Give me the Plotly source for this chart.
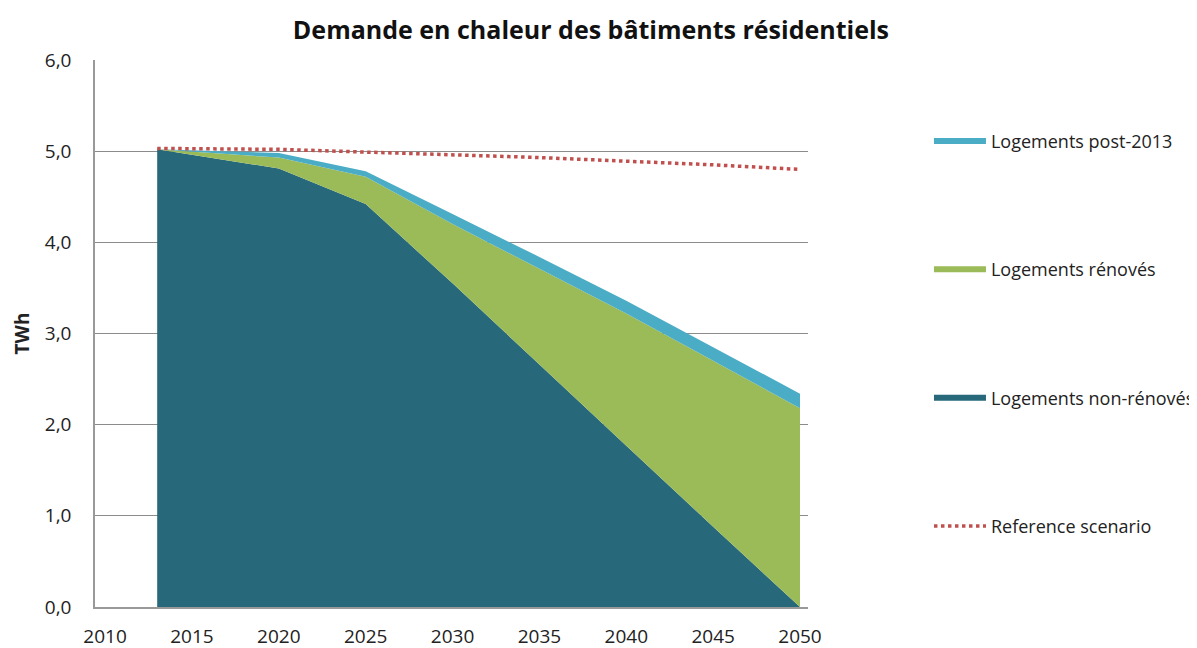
import plotly.graph_objects as go

years = [2013, 2020, 2025, 2030, 2035, 2040, 2045, 2050]
non_renoves = [5.02, 4.81, 4.42, 3.55, 2.66, 1.77, 0.88, 0.0]
renoves = [0.0, 0.12, 0.30, 0.65, 1.05, 1.45, 1.82, 2.18]
post_2013 = [0.0, 0.05, 0.06, 0.11, 0.13, 0.14, 0.15, 0.16]
reference = [5.03, 5.02, 4.99, 4.96, 4.93, 4.89, 4.85, 4.80]

title = "Demande en chaleur des bâtiments résidentiels"
y_title = "TWh"
x_ticks = [2010, 2015, 2020, 2025, 2030, 2035, 2040, 2045, 2050]
y_ticks = [0, 1, 2, 3, 4, 5, 6]
y_ticklabels = ["0,0", "1,0", "2,0", "3,0", "4,0", "5,0", "6,0"]

FONT = "Open Sans"

fig = go.Figure()
fig.add_trace(go.Scatter(x=years, y=non_renoves, name="Logements non-rénovés",
                         stackgroup="a", mode="none", fillcolor="#27687A",
                         legendgroup="c", legendrank=3))
fig.add_trace(go.Scatter(x=years, y=renoves, name="Logements rénovés",
                         stackgroup="a", mode="none", fillcolor="#9BBB59",
                         legendgroup="b", legendrank=2))
fig.add_trace(go.Scatter(x=years, y=post_2013, name="Logements post-2013",
                         stackgroup="a", mode="none", fillcolor="#4BACC6",
                         legendgroup="a", legendrank=1))
fig.add_trace(go.Scatter(x=years, y=reference, name="Reference scenario",
                         mode="lines", line=dict(color="#C0504D", width=3.5, dash="dot"),
                         legendgroup="d", legendrank=4))

fig.update_layout(
    width=1197, height=648,
    margin=dict(l=87, r=397, t=52, b=49, autoexpand=False),
    plot_bgcolor="white", paper_bgcolor="white",
    font=dict(family=FONT, size=19, color="#222222"),
    title=dict(text="<b>" + title + "</b>", x=0.487, xanchor="center",
               y=0.966, yanchor="middle", font=dict(size=25, color="#111111")),
    xaxis=dict(range=[2009.42, 2050.46], tickvals=x_ticks, showgrid=False,
               showline=True, linecolor="#999999", linewidth=1.5, ticks="",
               tickfont=dict(size=19), zeroline=False, ticklabelstandoff=11),
    yaxis=dict(range=[0, 6], tickvals=y_ticks, ticktext=y_ticklabels,
               showgrid=True, gridcolor="#8c8c8c", gridwidth=1.2,
               showline=True, linecolor="#999999", linewidth=1.5, ticks="",
               tickfont=dict(size=19), zeroline=False, ticklabelstandoff=18,
               title=dict(text="<b>" + y_title + "</b>", font=dict(size=19), standoff=10)),
    showlegend=True,
    legend=dict(xref="container", yref="container", x=0.7694, xanchor="left",
                y=0.823, yanchor="top", maxheight=600,
                traceorder="grouped", tracegroupgap=102, itemwidth=52,
                font=dict(size=18, color="#222222"), bgcolor="rgba(0,0,0,0)"),
)

fig.write_html("out.html")
